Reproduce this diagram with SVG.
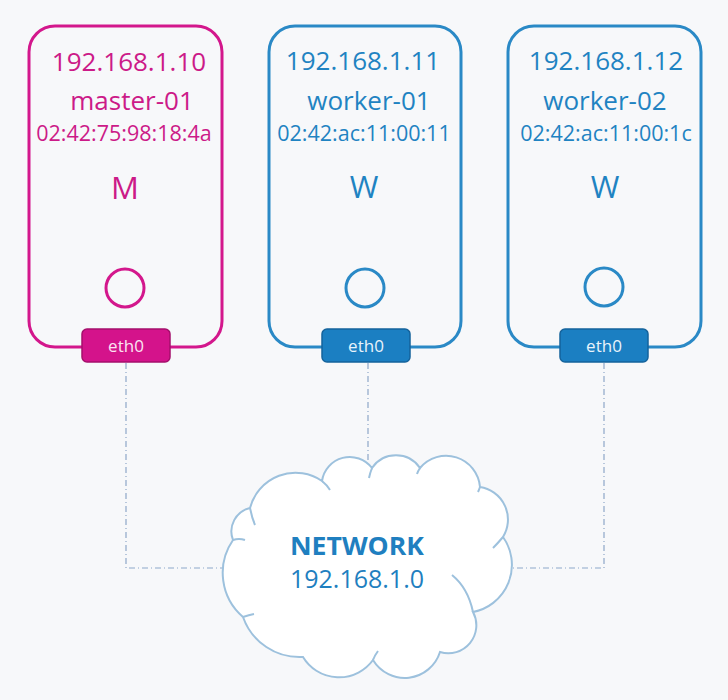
<svg xmlns="http://www.w3.org/2000/svg" width="728" height="700" viewBox="0 0 728 700">
  <style>
    text { font-family: "Open Sans", "Noto Sans", "Liberation Sans", sans-serif; text-anchor: middle; }
    .box-m { fill: none; stroke: #d3178c; stroke-width: 3; }
    .box-w { fill: none; stroke: #2a89c6; stroke-width: 3; }
    .txt-m { fill: #cc1a88; }
    .txt-w { fill: #1f83c2; }
    .ip { font-size: 26px; }
    .name { font-size: 26px; }
    .mac { font-size: 21.5px; }
    .role { font-size: 31px; }
    .port-m { fill: #d4138b; stroke: #a50f6c; stroke-width: 1.5; }
    .port-w { fill: #1b7fc2; stroke: #15639c; stroke-width: 1.5; }
    .port-label { font-size: 17px; }
    .link { fill: none; stroke: #8ea7c9; stroke-width: 1.2; stroke-dasharray: 6 3 1 3; }
    .cloud { fill: #ffffff; stroke: #9dc1dd; stroke-width: 2; }
    .cloud-hook { fill: none; stroke: #9dc1dd; stroke-width: 2; }
  </style>

  <rect x="0" y="0" width="728" height="700" fill="#f7f8fa"/>

  <!-- dash-dot links from each eth0 port to the network -->
  <g id="connectors">
    <path class="link" d="M126 363 V568 H224"/>
    <path class="link" d="M368 363 V462"/>
    <path class="link" d="M604 363 V568 H513"/>
  </g>

  <!-- network cloud -->
  <g id="network">
    <path class="cloud" d="M250 508
      A47 47 0 0 1 322 481
      A28 28 0 0 1 372 468
      A29 29 0 0 1 420 468
      A34 34 0 0 1 480 487
      A33 33 0 0 1 503 537
      A48 48 0 0 1 473 612
      A28 28 0 0 1 440 652
      A37 37 0 0 1 373 660
      A42 42 0 0 1 303 657
      A60 60 0 0 1 243 617
      A58 58 0 0 1 233 540
      A24 24 0 0 1 250 508 Z"/>
    <path class="cloud-hook" d="M250 508 Q252 518 255 525"/>
    <path class="cloud-hook" d="M322 481 Q327 485 330 490"/>
    <path class="cloud-hook" d="M372 468 Q370 473 369 478"/>
    <path class="cloud-hook" d="M420 468 Q418 471 417 474"/>
    <path class="cloud-hook" d="M480 487 Q479 490 478 492"/>
    <path class="cloud-hook" d="M503 537 Q498 543 493 548"/>
    <path class="cloud-hook" d="M473 612 Q468 588 452 575"/>
    <path class="cloud-hook" d="M373 660 Q375 655 378 651"/>
    <path class="cloud-hook" d="M243 617 Q249 615 254 614"/>
    <path class="cloud-hook" d="M233 540 Q239 538 245 540"/>
    <text x="357" y="555" font-size="25" font-weight="700" fill="#1f7fc0" textLength="134" lengthAdjust="spacingAndGlyphs">NETWORK</text>
    <text x="357" y="588" font-size="25" fill="#1f7fc0">192.168.1.0</text>
  </g>

  <!-- master node -->
  <g id="master-01">
    <rect class="box-m" x="29" y="26" width="193" height="321" rx="26"/>
    <text class="txt-m ip" x="129" y="71">192.168.1.10</text>
    <text class="txt-m name" x="132" y="110">master-01</text>
    <text class="txt-m mac" x="124" y="141">02:42:75:98:18:4a</text>
    <text class="txt-m role" x="125" y="199">M</text>
    <circle cx="125" cy="288" r="19" fill="none" stroke="#d3178c" stroke-width="3"/>
    <rect class="port-m" x="82" y="329" width="88" height="33" rx="5"/>
    <text class="port-label" x="126" y="352" fill="#fbe3f2">eth0</text>
  </g>

  <!-- worker nodes -->
  <g id="worker-01">
    <rect class="box-w" x="269" y="26" width="192" height="321" rx="26"/>
    <text class="txt-w ip" x="363" y="70">192.168.1.11</text>
    <text class="txt-w name" x="369" y="110">worker-01</text>
    <text class="txt-w mac" x="364" y="141">02:42:ac:11:00:11</text>
    <text class="txt-w role" x="364" y="198">W</text>
    <circle cx="365" cy="288" r="19" fill="none" stroke="#2a89c6" stroke-width="3"/>
    <rect class="port-w" x="322" y="329" width="88" height="33" rx="5"/>
    <text class="port-label" x="366" y="352" fill="#e8f3fb">eth0</text>
  </g>

  <g id="worker-02">
    <rect class="box-w" x="508" y="26" width="193" height="321" rx="26"/>
    <text class="txt-w ip" x="606" y="70">192.168.1.12</text>
    <text class="txt-w name" x="605" y="110">worker-02</text>
    <text class="txt-w mac" x="606" y="141">02:42:ac:11:00:1c</text>
    <text class="txt-w role" x="605" y="198">W</text>
    <circle cx="604" cy="287" r="19" fill="none" stroke="#2a89c6" stroke-width="3"/>
    <rect class="port-w" x="560" y="329" width="88" height="33" rx="5"/>
    <text class="port-label" x="604" y="352" fill="#e8f3fb">eth0</text>
  </g>
</svg>
